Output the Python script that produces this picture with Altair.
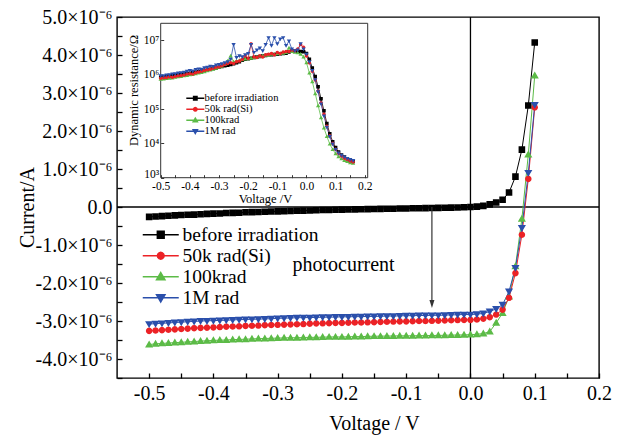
import altair as alt
import pandas as pd

# ---------------- data ----------------
series_names = ["before irradiation", "50k rad(Si)", "100krad", "1M rad"]
series_colors = ["#000000", "#ec2226", "#5cbb47", "#2a4fab"]

# main I-V curves (current in units of 1e-6 A)
voltage_main = [
    -0.50, -0.49, -0.48, -0.47, -0.46, -0.45, -0.44, -0.43, -0.42, -0.41,
    -0.40, -0.39, -0.38, -0.37, -0.36, -0.35, -0.34, -0.33, -0.32, -0.31,
    -0.30, -0.29, -0.28, -0.27, -0.26, -0.25, -0.24, -0.23, -0.22, -0.21,
    -0.20, -0.19, -0.18, -0.17, -0.16, -0.15, -0.14, -0.13, -0.12, -0.11,
    -0.10, -0.09, -0.08, -0.07, -0.06, -0.05, -0.04, -0.03, -0.02, -0.01,
    0.00, 0.01, 0.02, 0.03, 0.04, 0.05, 0.06, 0.07, 0.08, 0.09, 0.10,
]
current_before = [
    -0.26, -0.25, -0.24, -0.23, -0.22, -0.21, -0.205, -0.20, -0.19, -0.18,
    -0.175, -0.17, -0.16, -0.155, -0.15, -0.14, -0.135, -0.13, -0.125, -0.12,
    -0.115, -0.11, -0.105, -0.10, -0.095, -0.09, -0.085, -0.08, -0.077, -0.073,
    -0.07, -0.066, -0.063, -0.06, -0.056, -0.053, -0.05, -0.047, -0.044, -0.041,
    -0.038, -0.035, -0.032, -0.029, -0.026, -0.023, -0.02, -0.016, -0.012, -0.006,
    0.0, 0.01, 0.03, 0.07, 0.12, 0.19, 0.38, 0.80, 1.51, 2.67, 4.33,
]
current_50k = [
    -3.26, -3.25, -3.24, -3.23, -3.22, -3.21, -3.20, -3.19, -3.18, -3.175,
    -3.17, -3.16, -3.15, -3.145, -3.14, -3.13, -3.125, -3.12, -3.11, -3.105,
    -3.10, -3.095, -3.09, -3.085, -3.08, -3.07, -3.065, -3.06, -3.055, -3.05,
    -3.05, -3.045, -3.04, -3.04, -3.035, -3.03, -3.025, -3.02, -3.015, -3.01,
    -3.01, -3.005, -3.00, -3.00, -2.995, -2.99, -2.985, -2.98, -2.975, -2.97,
    -2.97, -2.96, -2.94, -2.90, -2.83, -2.70, -2.39, -1.74, -0.73, 0.74, 2.62,
]
current_100k = [
    -3.62, -3.60, -3.59, -3.58, -3.57, -3.56, -3.55, -3.54, -3.53, -3.52,
    -3.51, -3.505, -3.50, -3.49, -3.485, -3.48, -3.47, -3.465, -3.46, -3.455,
    -3.45, -3.445, -3.44, -3.44, -3.435, -3.43, -3.43, -3.425, -3.42, -3.42,
    -3.42, -3.415, -3.41, -3.41, -3.405, -3.40, -3.40, -3.395, -3.395, -3.39,
    -3.39, -3.39, -3.385, -3.385, -3.38, -3.38, -3.375, -3.37, -3.37, -3.365,
    -3.36, -3.35, -3.33, -3.28, -3.05, -2.79, -2.36, -1.56, -0.31, 1.38, 3.46,
]
current_1M = [
    -3.08, -3.07, -3.06, -3.05, -3.04, -3.03, -3.02, -3.01, -3.00, -2.995,
    -2.99, -2.985, -2.98, -2.97, -2.965, -2.96, -2.955, -2.95, -2.945, -2.94,
    -2.93, -2.925, -2.92, -2.915, -2.91, -2.91, -2.905, -2.90, -2.90, -2.895,
    -2.89, -2.89, -2.885, -2.885, -2.88, -2.88, -2.875, -2.87, -2.87, -2.865,
    -2.86, -2.86, -2.855, -2.855, -2.85, -2.85, -2.845, -2.84, -2.835, -2.83,
    -2.83, -2.82, -2.80, -2.75, -2.68, -2.57, -2.22, -1.60, -0.55, 0.90, 2.69,
]

# inset: dynamic resistance (log10 of ohms)
voltage_inset = [
    -0.50, -0.49, -0.48, -0.47, -0.46, -0.45, -0.44, -0.43, -0.42, -0.41,
    -0.40, -0.39, -0.38, -0.37, -0.36, -0.35, -0.34, -0.33, -0.32, -0.31,
    -0.30, -0.29, -0.28, -0.27, -0.26, -0.25, -0.24, -0.23, -0.22, -0.21,
    -0.20, -0.19, -0.18, -0.17, -0.16, -0.15, -0.14, -0.13, -0.12, -0.11,
    -0.10, -0.09, -0.08, -0.07, -0.06, -0.05, -0.04, -0.03, -0.02, -0.01,
    0.00, 0.01, 0.02, 0.03, 0.04, 0.05, 0.06, 0.07, 0.08, 0.09, 0.10,
    0.11, 0.12, 0.13, 0.14, 0.15, 0.16,
]
log_r_before = [
    5.93, 5.94, 5.95, 5.96, 5.97, 5.98, 5.99, 6.00, 6.01, 6.03,
    6.04, 6.06, 6.07, 6.09, 6.10, 6.12, 6.14, 6.16, 6.18, 6.20,
    6.22, 6.24, 6.26, 6.28, 6.30, 6.32, 6.35, 6.38, 6.42, 6.45,
    6.47, 6.48, 6.50, 6.52, 6.53, 6.55, 6.56, 6.58, 6.58, 6.59,
    6.60, 6.61, 6.62, 6.63, 6.66, 6.70, 6.69, 6.68, 6.68, 6.67,
    6.62, 6.45, 6.20, 5.95, 5.65, 5.30, 4.95, 4.58, 4.28, 4.05, 3.88,
    3.75, 3.66, 3.60, 3.55, 3.51, 3.47,
]
log_r_50k = [
    5.90, 5.91, 5.92, 5.94, 5.93, 5.95, 5.97, 5.98, 5.99, 6.02,
    6.03, 6.02, 6.06, 6.08, 6.10, 6.13, 6.15, 6.16, 6.19, 6.22,
    6.23, 6.26, 6.30, 6.33, 6.35, 6.33, 6.38, 6.40, 6.45, 6.55,
    6.48, 6.90, 6.52, 6.50, 6.55, 6.52, 6.58, 6.60, 6.62, 6.58,
    6.65, 6.62, 6.66, 6.68, 6.68, 6.72, 6.70, 6.75, 6.88, 6.80,
    6.55, 6.35, 6.10, 5.85, 5.52, 5.18, 4.85, 4.50, 4.22, 4.00, 3.83,
    3.71, 3.63, 3.57, 3.53, 3.49, 3.46,
]
log_r_100k = [
    5.87, 5.88, 5.89, 5.90, 5.91, 5.93, 5.94, 5.95, 5.97, 5.98,
    6.00, 6.01, 6.03, 6.05, 6.07, 6.09, 6.12, 6.14, 6.16, 6.19,
    6.22, 6.25, 6.30, 6.40, 6.55, 6.38, 6.40, 6.42, 6.44, 6.46,
    6.47, 6.48, 6.50, 6.52, 6.54, 6.56, 6.57, 6.58, 6.60, 6.60,
    6.61, 6.62, 6.63, 6.65, 6.78, 6.68, 6.66, 6.64, 6.60, 6.52,
    6.35, 6.05, 5.80, 5.45, 5.10, 4.75, 4.45, 4.20, 3.98, 3.82, 3.70,
    3.61, 3.55, 3.50, 3.47, 3.44, 3.42,
]
log_r_1M = [
    5.97, 5.97, 5.99, 6.00, 6.02, 6.03, 6.05, 6.06, 6.07, 6.10,
    6.12, 6.11, 6.15, 6.17, 6.16, 6.20, 6.22, 6.25, 6.24, 6.28,
    6.30, 6.32, 6.35, 6.38, 6.45, 6.88, 6.50, 6.55, 6.52, 6.58,
    6.62, 6.88, 6.65, 6.72, 6.78, 6.70, 6.88, 7.08, 6.85, 7.08,
    6.90, 7.04, 7.08, 6.85, 6.98, 6.75, 6.70, 6.72, 6.90, 6.75,
    6.60, 6.38, 6.12, 5.85, 5.50, 5.15, 4.80, 4.47, 4.20, 3.98, 3.82,
    3.72, 3.65, 3.60, 3.56, 3.53, 3.50,
]

# axis ticks
x_ticks_main = [-0.5, -0.45, -0.4, -0.35, -0.3, -0.25, -0.2, -0.15, -0.1, -0.05,
                0.0, 0.05, 0.1, 0.15, 0.2]
y_ticks_main = [-4.5, -4.0, -3.5, -3.0, -2.5, -2.0, -1.5, -1.0, -0.5, 0.0,
                0.5, 1.0, 1.5, 2.0, 2.5, 3.0, 3.5, 4.0, 4.5, 5.0]
x_ticks_inset = [-0.5, -0.45, -0.4, -0.35, -0.3, -0.25, -0.2, -0.15, -0.1, -0.05,
                 0.0, 0.05, 0.1, 0.15, 0.2]
y_ticks_inset = [1e3, 1e4, 1e5, 1e6, 1e7]

# annotation
photo_label = "photocurrent"
photo_pos = (-0.277, -1.53)
arrow_v, arrow_top, arrow_end, arrow_tip = -0.06, 0.0, -2.55, -2.66

# ---------------- styling ----------------
FONT = "Liberation Serif"
# marker paths: a short line through the marker (line only shows where stroked, i.e. legend)
marker_paths = [
    "M-4.5,0H4.5M-0.85,-0.85H0.85V0.85H-0.85Z",
    "M-4.5,0H4.5M0.85,0L0.736,0.425L0.425,0.736L0,0.85L-0.425,0.736L-0.736,0.425"
    "L-0.85,0L-0.736,-0.425L-0.425,-0.736L0,-0.85L0.425,-0.736L0.736,-0.425Z",
    "M-4.5,0H4.5M0,-1.05L1.05,0.75L-1.05,0.75Z",
    "M-4.5,0H4.5M0,1.05L1.05,-0.75L-1.05,-0.75Z",
]
arrow_head_path = "M0,0L-0.5,-1.6L0.5,-1.6Z"

W, H = 482, 361
draw_order = ["before irradiation", "100krad", "50k rad(Si)", "1M rad"]

main_vals = {"before irradiation": current_before, "50k rad(Si)": current_50k,
             "100krad": current_100k, "1M rad": current_1M}
inset_vals = {"before irradiation": log_r_before, "50k rad(Si)": log_r_50k,
              "100krad": log_r_100k, "1M rad": log_r_1M}

main_df = pd.concat(
    [pd.DataFrame({"V": voltage_main, "I": main_vals[s], "series": s}) for s in draw_order],
    ignore_index=True)
inset_df = pd.concat(
    [pd.DataFrame({"V": voltage_inset, "R": [10 ** v for v in inset_vals[s]], "series": s})
     for s in draw_order],
    ignore_index=True)

# ---------------- main chart ----------------
x_label_expr = ("abs(datum.value*10 - round(datum.value*10)) > 0.01 ? '' : "
                "replace(format(datum.value, '.1f'), '\u2212', '-')")
y_label_expr = ("abs(datum.value - round(datum.value)) > 0.01 ? '' : "
                "(abs(datum.value) < 0.001 ? '0.0' : "
                "replace(format(datum.value, '.1f'), '\u2212', '-') + '\u00d710\u207b\u2076')")

x_main = alt.X("V:Q", scale=alt.Scale(domain=[-0.55, 0.2], nice=False, zero=False),
               axis=alt.Axis(orient="bottom", offset=-5, domain=False, grid=False,
                             tickSize=5, tickWidth=1.3, tickColor="black",
                             values=x_ticks_main, labelExpr=x_label_expr,
                             labelFont=FONT, labelFontSize=20, labelColor="black",
                             labelPadding=5, labelFlush=False, labelOverlap=False,
                             title="Voltage / V", titleFont=FONT, titleFontSize=20,
                             titleFontWeight="normal", titleColor="black",
                             titleX=257, titleY=50, titleBaseline="middle",
                             titleAlign="center"))
y_main = alt.Y("I:Q", scale=alt.Scale(domain=[-4.5, 5.0], nice=False, zero=False),
               axis=alt.Axis(orient="left", offset=-5, domain=False, grid=False,
                             tickSize=5, tickWidth=1.3, tickColor="black",
                             values=y_ticks_main, labelExpr=y_label_expr,
                             labelFont=FONT, labelFontSize=20, labelColor="black",
                             labelPadding=5, labelFlush=False, labelOverlap=False,
                             title="Current/A", titleFont=FONT, titleFontSize=20,
                             titleFontWeight="normal", titleColor="black",
                             titleX=-95, titleY=190, titleAngle=270,
                             titleBaseline="middle", titleAlign="center"))

color_main = alt.Scale(domain=series_names, range=series_colors)
shape_main = alt.Scale(domain=series_names, range=marker_paths)
main_legend = alt.Legend(orient="none", legendX=34, legendY=208, title=None,
                         labelFont=FONT, labelFontSize=19.5, labelColor="black",
                         symbolSize=64, labelOffset=12, rowPadding=0, padding=0,
                         labelLimit=400)

zero_h = alt.Chart(pd.DataFrame({"I": [0.0]})).mark_rule(color="black", strokeWidth=1.3).encode(y=y_main)
zero_v = alt.Chart(pd.DataFrame({"V": [0.0]})).mark_rule(color="black", strokeWidth=1.3).encode(x=x_main)

legend_df = pd.DataFrame({"V": [1.5] * 4, "I": [0.0] * 4, "series": series_names})
main_legend_layer = alt.Chart(legend_df).mark_point(
    filled=True, size=64, opacity=1, strokeWidth=1.2, clip=True).encode(
    x=x_main, y=y_main,
    color=alt.Color("series:N", scale=color_main, legend=main_legend),
    shape=alt.Shape("series:N", scale=shape_main, legend=main_legend),
    stroke=alt.Stroke("series:N", scale=color_main, legend=main_legend))
main_lines = alt.Chart(main_df).mark_line(strokeWidth=1).encode(
    x=x_main, y=y_main,
    color=alt.Color("series:N", scale=color_main))
main_points = alt.Chart(main_df).mark_point(filled=True, size=60, opacity=1).encode(
    x=x_main, y=y_main,
    color=alt.Color("series:N", scale=color_main),
    shape=alt.Shape("series:N", scale=shape_main))

arrow_rule = alt.Chart(pd.DataFrame({"V": [arrow_v], "I": [arrow_top], "I2": [arrow_end]})).mark_rule(
    color="#333333", strokeWidth=1.2).encode(x=x_main, y=y_main, y2="I2:Q")
arrow_head = alt.Chart(pd.DataFrame({"V": [arrow_v], "I": [arrow_tip]})).mark_point(
    shape=arrow_head_path, filled=True, size=100, opacity=1, color="#333333").encode(x=x_main, y=y_main)
photo_text = alt.Chart(pd.DataFrame({"V": [photo_pos[0]], "I": [photo_pos[1]], "t": [photo_label]})).mark_text(
    align="left", baseline="middle", font=FONT, fontSize=20, color="black").encode(
    x=x_main, y=y_main, text="t:N")

main = alt.layer(main_legend_layer, zero_h, zero_v, main_lines, main_points,
                 arrow_rule, arrow_head, photo_text)

# ---------------- inset ----------------
IN_L, IN_R, IN_T, IN_B = 43.7, 250.7, 6.3, 160.7
inset_y_expr = ("'10' + ['\u2070','\u00b9','\u00b2','\u00b3','\u2074','\u2075','\u2076','\u2077','\u2078']"
                "[round(log(datum.value)/LN10)]")
x_in = alt.X("V:Q", scale=alt.Scale(domain=[-0.5, 0.21], range=[IN_L, IN_R], nice=False, zero=False),
             axis=alt.Axis(orient="bottom", offset=IN_B - 3 - H, domain=False, grid=False,
                           tickSize=3, tickWidth=0.8, tickColor="black",
                           values=x_ticks_inset, labelExpr=x_label_expr,
                           labelFont=FONT, labelFontSize=11.5, labelColor="black",
                           labelPadding=3, labelFlush=False, labelOverlap=False,
                           title="Voltage /V", titleFont=FONT, titleFontSize=12.5,
                           titleFontWeight="normal", titleColor="black",
                           titleX=148, titleY=24, titleBaseline="middle", titleAlign="center"))
y_in = alt.Y("R:Q", scale=alt.Scale(type="log", domain=[1e3, 3.16e7], range=[IN_B, IN_T], nice=False),
             axis=alt.Axis(orient="left", offset=-(IN_L + 3), domain=False, grid=False,
                           tickSize=3, tickWidth=0.8, tickColor="black",
                           values=y_ticks_inset, labelExpr=inset_y_expr,
                           labelFont=FONT, labelFontSize=11.5, labelColor="black",
                           labelPadding=2, labelFlush=True, labelFlushOffset=2,
                           labelOverlap=False,
                           title="Dynamic resistance/\u03a9", titleFont=FONT, titleFontSize=12.5,
                           titleFontWeight="normal", titleColor="black",
                           titleX=16 - (IN_L + 3), titleY=73, titleAngle=270,
                           titleBaseline="middle", titleAlign="center"))

color_in = alt.Scale(domain=series_names, range=series_colors)
shape_in = alt.Scale(domain=series_names, range=marker_paths)
inset_legend = alt.Legend(orient="none", legendX=73, legendY=76, title=None,
                          labelFont=FONT, labelFontSize=10.6, labelColor="black",
                          symbolSize=16, labelOffset=4, rowPadding=0, padding=0,
                          labelLimit=400)

in_legend_df = pd.DataFrame({"V": [5.0] * 4, "R": [1e3] * 4, "series": series_names})
in_legend_layer = alt.Chart(in_legend_df).mark_point(
    filled=True, size=16, opacity=1, strokeWidth=0.8, clip=True).encode(
    x=x_in, y=y_in,
    color=alt.Color("series:N", scale=color_in, legend=inset_legend),
    shape=alt.Shape("series:N", scale=shape_in, legend=inset_legend),
    stroke=alt.Stroke("series:N", scale=color_in, legend=inset_legend))
frame_in = alt.Chart(pd.DataFrame({"V": [-0.5], "V2": [0.21], "R": [1e3], "R2": [3.16e7]})).mark_rect(
    fillOpacity=0, stroke="#333333", strokeWidth=1).encode(x=x_in, x2="V2:Q", y=y_in, y2="R2:Q")
in_lines = alt.Chart(inset_df).mark_line(strokeWidth=0.8).encode(
    x=x_in, y=y_in, color=alt.Color("series:N", scale=color_in))
in_points = alt.Chart(inset_df).mark_point(filled=True, size=17, opacity=1).encode(
    x=x_in, y=y_in,
    color=alt.Color("series:N", scale=color_in),
    shape=alt.Shape("series:N", scale=shape_in))

inset = alt.layer(in_legend_layer, frame_in, in_lines, in_points)

chart = alt.layer(main, inset).resolve_scale(
    x="independent", y="independent", color="independent",
    shape="independent", stroke="independent"
).properties(
    width=W, height=H,
    padding={"left": 117, "top": 17, "right": 20, "bottom": 57},
    autosize=alt.AutoSizeParams(type="none"),
    background="white",
).configure_view(stroke="black", strokeWidth=1.4)

chart.save("out.html", embed_options={"renderer": "svg", "actions": False})
